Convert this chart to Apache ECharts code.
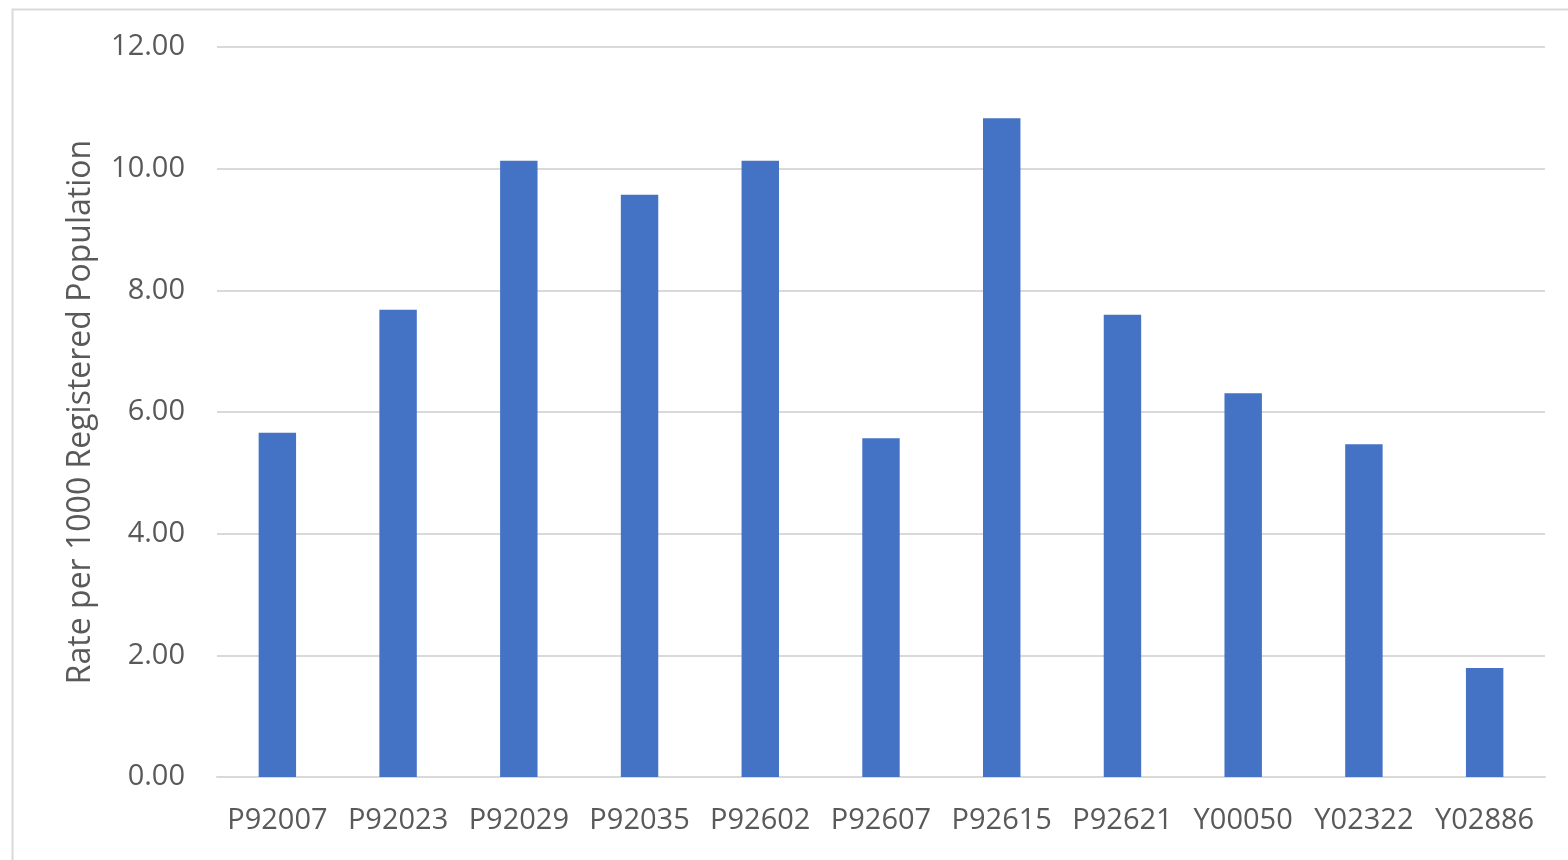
<!DOCTYPE html>
<html>
<head>
<meta charset="utf-8">
<script src="https://cdn.jsdelivr.net/npm/echarts@6/dist/echarts.min.js"></script>
<style>
  html, body { margin: 0; padding: 0; background: #fff; }
  #chart { width: 1568px; height: 860px; }
</style>
</head>
<body>
<div id="chart"></div>
<script>
const categories = ['P92007', 'P92023', 'P92029', 'P92035', 'P92602', 'P92607', 'P92615', 'P92621', 'Y00050', 'Y02322', 'Y02886'];
const rates = [5.66, 7.68, 10.13, 9.57, 10.13, 5.57, 10.83, 7.60, 6.31, 5.47, 1.79];
const yAxisTitle = 'Rate per 1000 Registered Population';

const chart = echarts.init(document.getElementById('chart'), null, { renderer: 'canvas' });
const fontFamily = '"Open Sans", "Noto Sans", sans-serif';
chart.setOption({
  animation: false,
  backgroundColor: '#ffffff',
  graphic: [{
    type: 'rect',
    left: 10, top: 7,
    shape: { x: 0, y: 0, width: 1600, height: 900 },
    style: { fill: 'none', stroke: '#d9d9d9', lineWidth: 2 },
    silent: true
  }],
  grid: { left: 217, right: 23, top: 47, bottom: 83, containLabel: false },
  xAxis: {
    type: 'category',
    data: categories,
    axisLine: { show: true, lineStyle: { color: '#d9d9d9', width: 2 } },
    axisTick: { show: false },
    axisLabel: { color: '#595959', fontSize: 29, fontFamily: fontFamily, margin: 29, interval: 0 }
  },
  yAxis: {
    type: 'value',
    min: 0, max: 12, interval: 2,
    name: yAxisTitle,
    nameLocation: 'middle',
    nameGap: 120,
    nameTextStyle: { color: '#595959', fontSize: 32, fontFamily: fontFamily },
    axisLine: { show: false },
    axisTick: { show: false },
    axisLabel: { color: '#595959', fontSize: 29, fontFamily: fontFamily, margin: 32, formatter: v => v.toFixed(2) },
    splitLine: { lineStyle: { color: '#d9d9d9', width: 2 } }
  },
  series: [{
    type: 'bar',
    data: rates,
    barWidth: '31%',
    itemStyle: { color: '#4472C4' }
  }]
});
</script>
</body>
</html>
